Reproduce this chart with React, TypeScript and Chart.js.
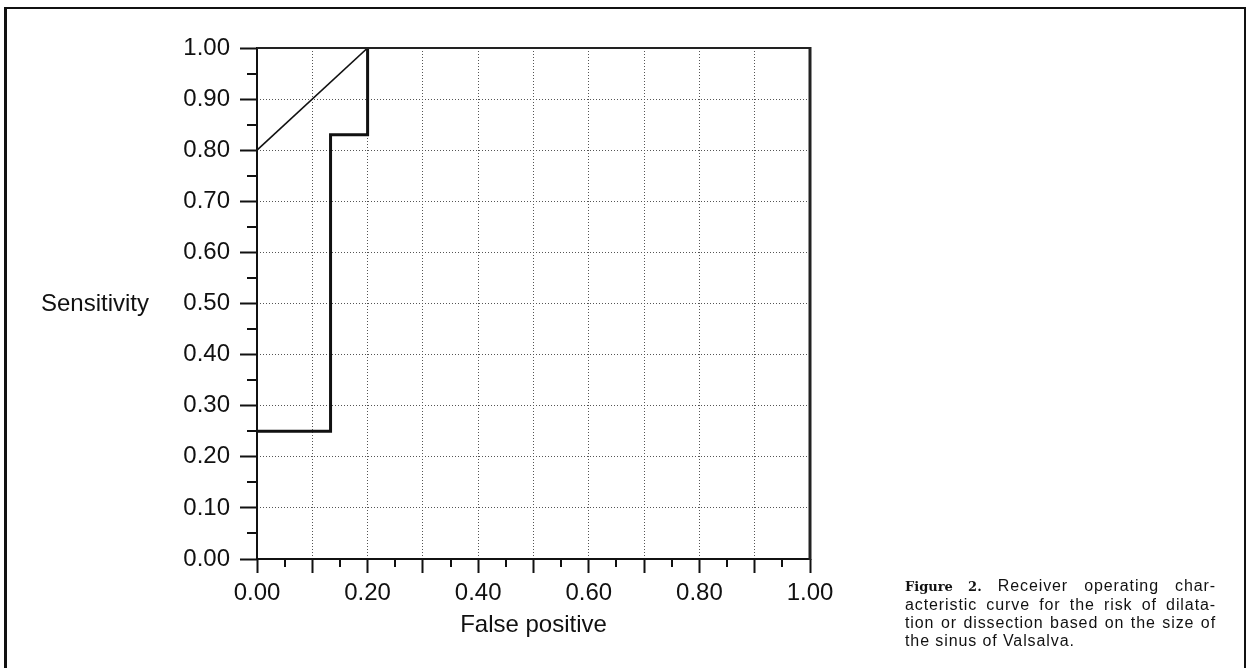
import React, { useEffect, useRef } from 'react';
import { Chart, registerables } from 'chart.js';

Chart.register(...registerables);

// ---- data ----
const fprSteps = [0, 0.133, 0.133, 0.2, 0.2];
const tprSteps = [0.25, 0.25, 0.83, 0.83, 1.0];
const fprDiag = [0, 0.2];
const tprDiag = [0.8, 1.0];

const xTickLabels = ['0.00', '0.20', '0.40', '0.60', '0.80', '1.00'];
const yTickLabels = ['0.00', '0.10', '0.20', '0.30', '0.40', '0.50', '0.60', '0.70', '0.80', '0.90', '1.00'];

const xTitle = 'False positive';
const yTitle = 'Sensitivity';
const captionLabel = 'Figure 2.';
const captionLines = [
  'Receiver operating char-',
  'acteristic curve for the risk of dilata-',
  'tion or dissection based on the size of',
  'the sinus of Valsalva.',
];

const FONT = '"Liberation Sans", Arial, Helvetica, sans-serif';
const INK = '#111';

const decoPlugin = {
  id: 'rocDeco',
  afterDatasetsDraw(chart: any) {
    const { ctx, chartArea: a, scales } = chart;
    const xs = scales.x;
    const ys = scales.y;
    const seg = (x1: number, y1: number, x2: number, y2: number) => {
      ctx.beginPath();
      ctx.moveTo(x1, y1);
      ctx.lineTo(x2, y2);
      ctx.stroke();
    };
    ctx.save();
    ctx.strokeStyle = INK;
    ctx.setLineDash([]);
    // minor ticks halfway between the major ticks
    ctx.lineWidth = 2;
    const xt = xs.ticks;
    for (let i = 0; i < xt.length - 1; i++) {
      const px = Math.round(xs.getPixelForValue((xt[i].value + xt[i + 1].value) / 2));
      seg(px, a.bottom, px, a.bottom + 8);
    }
    const yt = ys.ticks;
    for (let i = 0; i < yt.length - 1; i++) {
      const py = Math.round(ys.getPixelForValue((yt[i].value + yt[i + 1].value) / 2));
      seg(a.left - 10, py, a.left, py);
    }
    // frame of the plot: thick axes left/bottom, borders top/right
    ctx.lineWidth = 2;
    seg(a.left, a.top - 1, a.left, a.bottom + 1);
    seg(a.left - 1, a.bottom, a.right + 1, a.bottom);
    ctx.strokeStyle = '#222';
    seg(a.left, a.top, a.right, a.top);
    ctx.lineWidth = 3;
    seg(a.right, a.top - 1, a.right, a.bottom + 1);
    ctx.restore();
  },
};

function RocChart() {
  const ref = useRef<HTMLCanvasElement | null>(null);
  useEffect(() => {
    if (!ref.current) return;
    const chart = new Chart(ref.current, {
      type: 'scatter',
      data: {
        datasets: [
          {
            label: 'diagonal',
            data: fprDiag.map((v, i) => ({ x: v, y: tprDiag[i] })),
            showLine: true,
            borderColor: INK,
            borderWidth: 1.6,
            pointRadius: 0,
            tension: 0,
          },
          {
            label: 'ROC',
            data: fprSteps.map((v, i) => ({ x: v, y: tprSteps[i] })),
            showLine: true,
            borderColor: INK,
            borderWidth: 3,
            pointRadius: 0,
            tension: 0,
          },
        ],
      },
      options: {
        animation: false,
        responsive: false,
        maintainAspectRatio: false,
        devicePixelRatio: 1,
        layout: { padding: { left: 157, right: 438, top: 48, bottom: 28 } },
        plugins: { legend: { display: false }, tooltip: { enabled: false } },
        scales: {
          x: {
            type: 'linear',
            position: 'bottom',
            min: 0,
            max: 1,
            ticks: {
              stepSize: 0.1,
              autoSkip: false,
              maxRotation: 0,
              padding: 6,
              color: INK,
              font: { family: FONT, size: 24 },
              callback: (v: any) => {
                const s = Number(v).toFixed(2);
                return xTickLabels.includes(s) ? s : '';
              },
            },
            grid: {
              color: '#555',
              lineWidth: 1,
              drawTicks: true,
              tickLength: 14,
              tickWidth: 2,
              tickColor: INK,
            },
            border: { display: false, dash: [1, 2] },
            title: {
              display: true,
              text: xTitle,
              color: INK,
              font: { family: FONT, size: 24 },
              padding: 0,
            },
            afterFit: (s: any) => {
              s.height = 81;
            },
          },
          y: {
            type: 'linear',
            position: 'left',
            min: 0,
            max: 1,
            ticks: {
              stepSize: 0.1,
              autoSkip: false,
              padding: 10,
              color: INK,
              font: { family: FONT, size: 24 },
              callback: (v: any) => {
                const s = Number(v).toFixed(2);
                return yTickLabels.includes(s) ? s : '';
              },
            },
            grid: {
              color: '#555',
              lineWidth: 1,
              drawTicks: true,
              tickLength: 17,
              tickWidth: 2,
              tickColor: INK,
            },
            border: { display: false, dash: [1, 2] },
            afterFit: (s: any) => {
              s.width = 100;
            },
          },
        },
      } as any,
      plugins: [decoPlugin],
    });
    return () => chart.destroy();
  }, []);
  return (
    <canvas
      ref={ref}
      width={1248}
      height={668}
      style={{ position: 'absolute', left: 0, top: 0, width: 1248, height: 668 }}
    />
  );
}

export default function App() {
  return (
    <div
      style={{
        position: 'absolute',
        left: 0,
        top: 0,
        width: 1248,
        height: 668,
        overflow: 'hidden',
        background: '#fff',
        fontFamily: FONT,
        color: INK,
      }}
    >
      <div
        style={{
          position: 'absolute',
          left: 4,
          top: 7,
          width: 1242,
          height: 720,
          boxSizing: 'border-box',
          borderLeft: '3px solid #111',
          borderTop: '2px solid #111',
          borderRight: '2px solid #111',
        }}
      />
      <RocChart />
      <div
        style={{
          position: 'absolute',
          left: 0,
          top: 288,
          width: 149,
          textAlign: 'right',
          fontSize: 24,
          lineHeight: '30px',
        }}
      >
        {yTitle}
      </div>
      <div
        style={{
          position: 'absolute',
          left: 905,
          top: 577,
          width: 311,
          fontSize: 16,
          letterSpacing: '0.9px',
          lineHeight: '18px',
        }}
      >
        {captionLines.map((line, i) => (
          <div
            key={i}
            style={{
              textAlign: i < captionLines.length - 1 ? 'justify' : 'left',
              textAlignLast: i < captionLines.length - 1 ? 'justify' : 'left',
              whiteSpace: 'nowrap',
            } as any}
          >
            {i === 0 ? (
              <>
                <span
                  style={{
                    fontWeight: 'bold',
                    fontFamily: '"DejaVu Serif", serif',
                    fontSize: 13,
                    letterSpacing: 0,
                  }}
                >
                  {captionLabel}
                </span>{' '}
                {line}
              </>
            ) : (
              line
            )}
          </div>
        ))}
      </div>
    </div>
  );
}
